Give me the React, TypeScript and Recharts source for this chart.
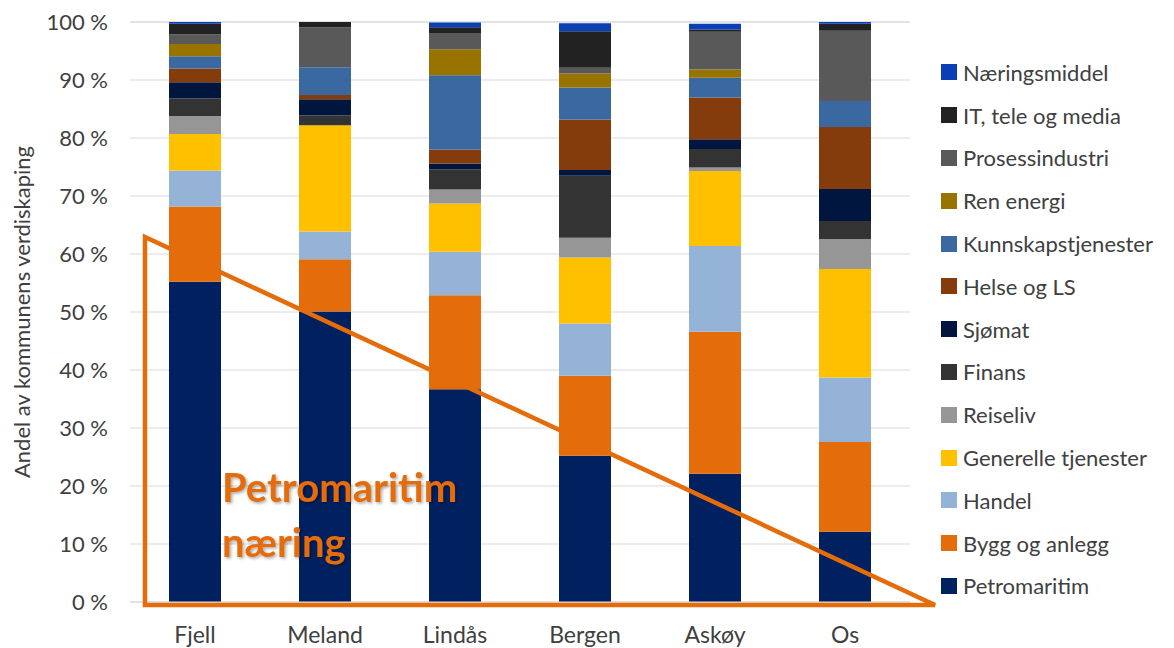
import React from 'react';
import { BarChart, Bar, XAxis, YAxis, CartesianGrid } from 'recharts';

const KOMMUNER = ['Fjell', 'Meland', 'Lindås', 'Bergen', 'Askøy', 'Os'];

// andel av verdiskaping (%), rekkefølge som KOMMUNER
const petromaritim = [55.2, 50.1, 36.7, 25.2, 22.1, 12.1];
const byggOgAnlegg = [13.0, 9.0, 16.2, 13.8, 24.5, 15.5];
const handel = [6.2, 4.8, 7.5, 9.0, 14.8, 11.1];
const generelleTjenester = [6.3, 18.3, 8.3, 11.4, 12.9, 18.7];
const reiseliv = [3.1, 0, 2.4, 3.4, 0.6, 5.2];
const finans = [3.0, 1.7, 3.5, 10.7, 3.2, 3.1];
const sjomat = [2.8, 2.8, 1.0, 1.0, 1.7, 5.5];
const helseOgLS = [2.4, 0.7, 2.4, 8.7, 7.2, 10.7];
const kunnskapstjenester = [2.1, 4.8, 12.8, 5.5, 3.4, 4.5];
const renEnergi = [2.1, 0, 4.5, 2.4, 1.4, 0];
const prosessindustri = [1.7, 6.9, 2.8, 1.0, 6.5, 12.1];
const itTeleMedia = [1.8, 0.9, 1.0, 6.3, 0.4, 1.2];
const naeringsmiddel = [0.3, 0, 0.8, 1.4, 1.0, 0.3];

const Y_TICKS = [0, 10, 20, 30, 40, 50, 60, 70, 80, 90, 100];

const SERIES = [
  { key: 'Petromaritim', values: petromaritim, color: '#002060' },
  { key: 'Bygg og anlegg', values: byggOgAnlegg, color: '#E46C0A' },
  { key: 'Handel', values: handel, color: '#95B3D7' },
  { key: 'Generelle tjenester', values: generelleTjenester, color: '#FFC000' },
  { key: 'Reiseliv', values: reiseliv, color: '#969696' },
  { key: 'Finans', values: finans, color: '#333333' },
  { key: 'Sjømat', values: sjomat, color: '#00163F' },
  { key: 'Helse og LS', values: helseOgLS, color: '#843C0C' },
  { key: 'Kunnskapstjenester', values: kunnskapstjenester, color: '#3A68A0' },
  { key: 'Ren energi', values: renEnergi, color: '#997300' },
  { key: 'Prosessindustri', values: prosessindustri, color: '#595959' },
  { key: 'IT, tele og media', values: itTeleMedia, color: '#222222' },
  { key: 'Næringsmiddel', values: naeringsmiddel, color: '#0B3FB5' },
];

const data = KOMMUNER.map((name, i) => {
  const row: Record<string, string | number> = { name };
  SERIES.forEach((s) => {
    row[s.key] = s.values[i];
  });
  return row;
});

const FONT = 'Lato, "Open Sans", sans-serif';
const ORANGE = '#E46C0A';
const TEXT = '#404040';

function LegendList() {
  return (
    <div
      style={{
        position: 'absolute',
        left: 941,
        top: 51,
        fontFamily: FONT,
        fontSize: 22,
        color: TEXT,
      }}
    >
      {[...SERIES].reverse().map((s) => (
        <div key={s.key} style={{ display: 'flex', alignItems: 'center', height: 42.8 }}>
          <span style={{ width: 16, height: 16, background: s.color, marginRight: 6, flex: 'none' }} />
          <span style={{ whiteSpace: 'nowrap' }}>{s.key}</span>
        </div>
      ))}
    </div>
  );
}

export default function App() {
  return (
    <div style={{ position: 'absolute', left: 0, top: 0, width: 1174, height: 648, background: '#fff' }}>
      <BarChart
        width={1174}
        height={648}
        data={data}
        margin={{ top: 22, right: 264, bottom: 0, left: 0 }}
        barCategoryGap="30%"
      >
        <CartesianGrid vertical={false} stroke="#D9D9D9" />
        <XAxis
          dataKey="name"
          height={46}
          tickLine={false}
          axisLine={{ stroke: '#D9D9D9' }}
          tickMargin={19}
          tick={{ fontSize: 23, fill: TEXT, fontFamily: FONT }}
        />
        <YAxis
          width={130}
          domain={[0, 100]}
          ticks={Y_TICKS}
          tickFormatter={(v: number) => `${v} %`}
          tickLine={false}
          axisLine={false}
          tickSize={0}
          tickMargin={22}
          tick={{ fontSize: 22, fill: TEXT, fontFamily: FONT }}
          label={{
            value: 'Andel av kommunens verdiskaping',
            angle: -90,
            position: 'insideLeft',
            offset: 22,
            style: { textAnchor: 'middle', fontSize: 22, fill: TEXT, fontFamily: FONT },
          }}
        />
        {SERIES.map((s) => (
          <Bar key={s.key} dataKey={s.key} stackId="a" fill={s.color} isAnimationActive={false} />
        ))}
      </BarChart>

      <LegendList />

      {/* annotation: petromaritim triangle */}
      <svg
        width={1174}
        height={648}
        style={{ position: 'absolute', left: 0, top: 0, pointerEvents: 'none' }}
      >
        <defs>
          <filter id="tshadow" x="-10%" y="-30%" width="120%" height="160%">
            <feDropShadow dx="1.5" dy="1.5" stdDeviation="1.5" floodColor="#000" floodOpacity="0.35" />
          </filter>
        </defs>
        <polygon
          points="145,237 145,605 935,605"
          fill="none"
          stroke={ORANGE}
          strokeWidth={4.5}
          strokeLinejoin="miter"
        />
        <g filter="url(#tshadow)" fontFamily={FONT} fontWeight={700} fontSize={40} fill={ORANGE}>
          <text x={222} y={502}>Petromaritim</text>
          <text x={222} y={557}>næring</text>
        </g>
      </svg>
    </div>
  );
}
